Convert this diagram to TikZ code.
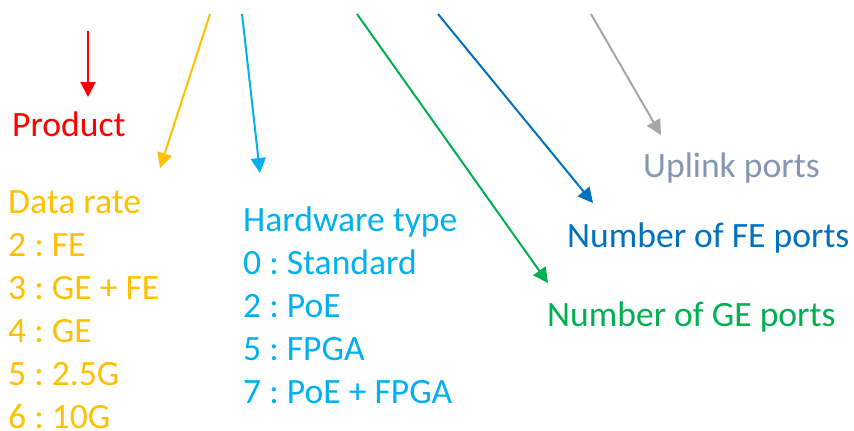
\documentclass[tikz,border=0pt]{standalone}
\usepackage{fontspec}
\setmainfont{Carlito}
\usetikzlibrary{arrows.meta}
\definecolor{cus-red}{RGB}{255,0,0}
\definecolor{cus-orange}{RGB}{255,192,0}
\definecolor{cus-sky}{RGB}{0,176,240}
\definecolor{cus-green}{RGB}{0,176,80}
\definecolor{cus-blue}{RGB}{0,112,192}
\definecolor{cus-grey}{RGB}{166,166,166}
\definecolor{cus-slate}{RGB}{132,151,176}
\frenchspacing

\begin{document}
\begin{tikzpicture}[x=1pt, y=-1pt,
	txt/.style={anchor=base west, inner sep=0pt, font=\fontsize{35.6}{43}\selectfont},
	arr/.style={line width=2pt, -{Triangle[length=15pt,width=15pt]}}]
\useasboundingbox (0,0) rectangle (854,431);

% labels
\node [txt, text=cus-red] (product) at (12,136) {Product};
\foreach \t [count=\i] in {Data rate, 2 : FE, 3 : GE + FE, 4 : GE, 5 : 2.5G, 6 : 10G}{
	\node [txt, text=cus-orange] (rate-\i) at (8,{213+43*(\i-1)}) {\t};
}
\foreach \t [count=\i] in {Hardware type, 0 : Standard, 2 : PoE, 5 : FPGA, 7 : PoE + FPGA}{
	\node [txt, text=cus-sky] (hw-\i) at (243,{231+43*(\i-1)}) {\t};
}
\node [txt, text=cus-slate] (uplink) at (643,177) {Uplink ports};
\node [txt, text=cus-blue] (fe) at (567,247) {Number of FE ports};
\node [txt, text=cus-green] (ge) at (547,326) {Number of GE ports};

% arrow ends
\coordinate (red-s) at (88,31);    \coordinate (red-e) at (88,97);
\coordinate (org-s) at (210,14);   \coordinate (org-e) at (160,168);
\coordinate (sky-s) at (242,14);   \coordinate (sky-e) at (260,173);
\coordinate (grn-s) at (357,14);   \coordinate (grn-e) at (548,283);
\coordinate (blu-s) at (438,14);   \coordinate (blu-e) at (593,203);
\coordinate (gry-s) at (591,14);   \coordinate (gry-e) at (661,135);

\draw [arr, cus-red] (red-s) -- (red-e);
\draw [arr, cus-orange] (org-s) -- (org-e);
\draw [arr, cus-sky] (sky-s) -- (sky-e);
\draw [arr, cus-green] (grn-s) -- (grn-e);
\draw [arr, cus-blue] (blu-s) -- (blu-e);
\draw [arr, cus-grey] (gry-s) -- (gry-e);
\end{tikzpicture}
\end{document}
